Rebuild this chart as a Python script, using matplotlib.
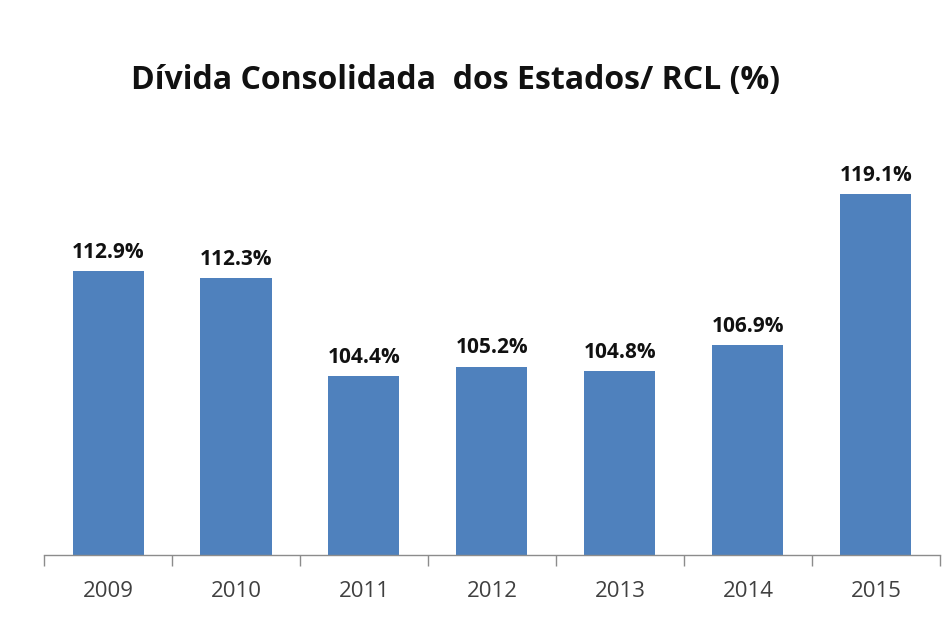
import matplotlib
matplotlib.use("Agg")
from matplotlib import pyplot as plt
import numpy as np

years = ["2009", "2010", "2011", "2012", "2013", "2014", "2015"]
ratio = [112.9, 112.3, 104.4, 105.2, 104.8, 106.9, 119.1]
labels = ["112.9%", "112.3%", "104.4%", "105.2%", "104.8%", "106.9%", "119.1%"]

plt.rcParams['font.family'] = ['Open Sans', 'DejaVu Sans']

fig = plt.figure(figsize=(9.51, 6.3), dpi=100)
ax = fig.add_axes([0.0463, 0.119, 0.942, 0.643])

x = np.arange(len(years))
bars = ax.bar(x, ratio, width=0.555, color="#4F81BD", bottom=0)
ax.set_ylim(90, 122.66)
ax.set_xlim(-0.5, len(years) - 0.5)

for xi, v, lab in zip(x, ratio, labels):
    ax.annotate(lab, (xi, v), xytext=(0, 6), textcoords="offset points",
                ha="center", va="bottom", fontsize=15, fontweight="bold",
                color="#111111")

# axis styling, excel-like
for s in ["top", "right", "left"]:
    ax.spines[s].set_visible(False)
ax.spines["bottom"].set_color("#8c8c8c")
ax.spines["bottom"].set_linewidth(1.0)
ax.set_yticks([])
ax.set_xticks(x)
ax.set_xticklabels(years, fontsize=16, color="#404040")
ax.tick_params(axis="x", which="major", length=0, pad=19)
ax.set_xticks(np.arange(-0.5, len(years)), minor=True)
ax.tick_params(axis="x", which="minor", length=8, color="#8c8c8c", width=1.0)

fig.text(0.479, 0.873, "Dívida Consolidada  dos Estados/ RCL (%)",
         ha="center", va="center", fontsize=23, fontweight="bold", color="#111111")

fig.savefig("out.png", dpi=100)
